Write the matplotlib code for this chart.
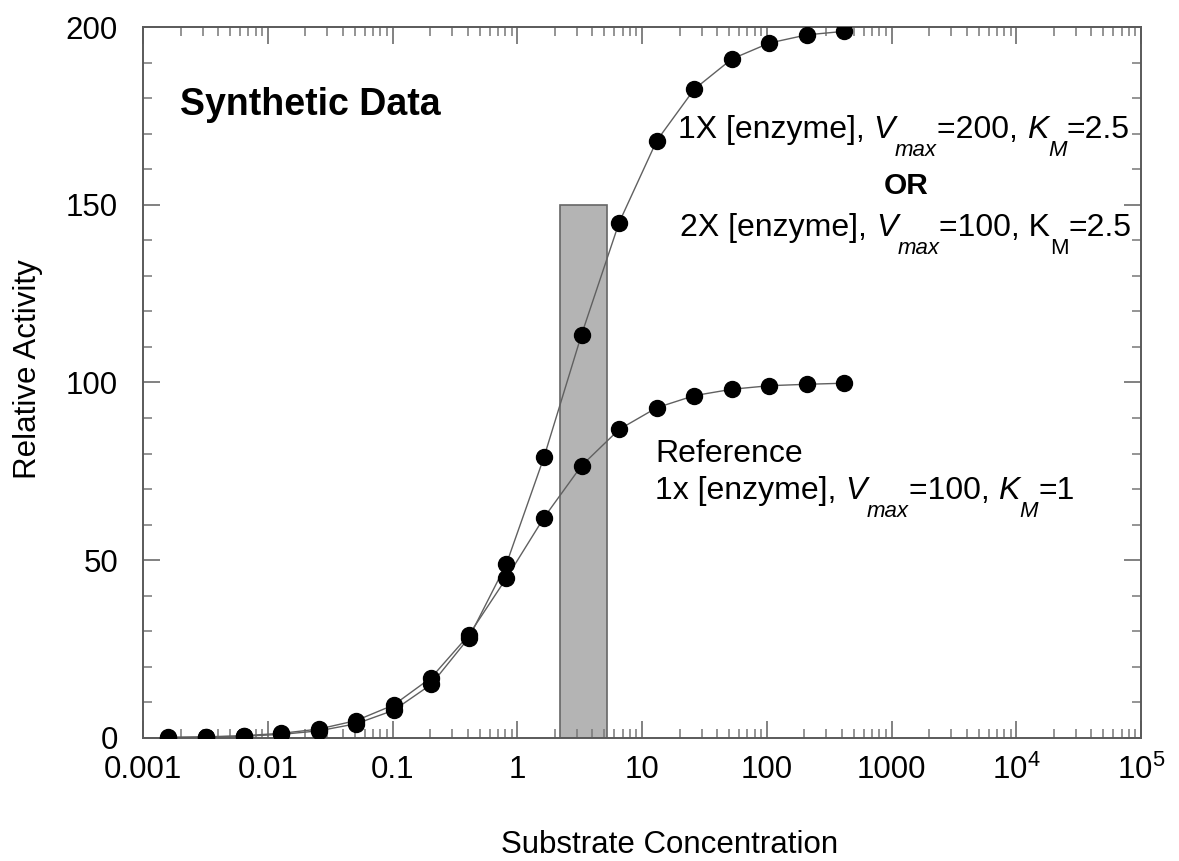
"""Michaelis-Menten synthetic data: relative activity vs substrate (log x)."""

import matplotlib

matplotlib.use("Agg")
import matplotlib.pyplot as plt
from matplotlib.font_manager import FontProperties
from matplotlib.patches import Rectangle
from matplotlib.ticker import FixedLocator, LogLocator, MultipleLocator, NullFormatter
from matplotlib.transforms import offset_copy

plt.rcParams["font.family"] = ["Liberation Sans", "DejaVu Sans"]
plt.rcParams["mathtext.fontset"] = "custom"
plt.rcParams["mathtext.rm"] = "Liberation Sans"

# substrate concentrations (doubling series)
substrate = [0.0016, 0.0032, 0.0064, 0.0128, 0.0256, 0.0512, 0.1024, 0.2048,
             0.4096, 0.8192, 1.638, 3.277, 6.554, 13.11, 26.21, 52.43, 104.9,
             209.7, 419.4]
# 1X enzyme, Vmax=200, KM=2.5 (or 2X enzyme, Vmax=100)
activity_high = [0.13, 0.26, 0.5, 1.0, 2.0, 4.0, 7.8, 15.1, 28.2, 49.0, 79.0,
                 113.5, 145.0, 168.0, 182.5, 191.0, 195.5, 197.8, 198.8]
# reference: 1x enzyme, Vmax=100, KM=1
activity_ref = [0.16, 0.32, 0.64, 1.3, 2.5, 4.9, 9.3, 17.0, 29.0, 45.0, 62.0,
                76.6, 86.8, 92.9, 96.3, 98.1, 99.1, 99.5, 99.8]

band_x = (2.2, 5.2)
band_top = 150

xtick_vals = [1e-3, 1e-2, 1e-1, 1, 10, 100, 1000, 1e4, 1e5]
xtick_labels = ["0.001", "0.01", "0.1", "1", "10", "100", "1000",
                "10$^{4}$", "10$^{5}$"]

MAIN = 23
SUB = 16
DROP = 18  # px, subscripts sit well below the baseline

fig = plt.figure(figsize=(11.79, 8.61), dpi=100)
ax = fig.add_axes([0.1213, 0.1429, 0.8465, 0.8257])
renderer = fig.canvas.get_renderer()


def _width(s, size, style):
    fp = FontProperties(family="Liberation Sans", size=size, **style)
    w1 = renderer.get_text_width_height_descent(s + "|", fp, ismath=False)[0]
    w0 = renderer.get_text_width_height_descent("|", fp, ismath=False)[0]
    return w1 - w0


def rich(x, y, parts):
    # parts: (text, italic?, subscript?)
    dx = 0.0
    for s, it, sub in parts:
        size = SUB if sub else MAIN
        style = {"style": "italic"} if it else {}
        tr = offset_copy(ax.transData, fig=fig, x=dx, y=-DROP if sub else 0,
                         units="dots")
        ax.text(x, y, s, transform=tr, fontsize=size, va="baseline",
                ha="left", **style)
        dx += _width(s, size, style)


ax.add_patch(Rectangle((band_x[0], 0), band_x[1] - band_x[0], band_top,
                       facecolor="#b4b4b4", edgecolor="#666666", lw=1.2, zorder=1))

for ys in (activity_high, activity_ref):
    ax.plot(substrate, ys, color="#606060", lw=1.0, zorder=2)
    ax.plot(substrate, ys, "o", color="black", ms=11.5, zorder=3)

ax.set_xscale("log")
ax.set_xlim(1e-3, 1e5)
ax.set_ylim(0, 200)
ax.xaxis.set_major_locator(FixedLocator(xtick_vals))
ax.set_xticklabels(xtick_labels)
ax.xaxis.set_minor_locator(LogLocator(base=10, subs=range(2, 10), numticks=20))
ax.xaxis.set_minor_formatter(NullFormatter())
ax.yaxis.set_major_locator(MultipleLocator(50))
ax.yaxis.set_minor_locator(MultipleLocator(10))

for s in ax.spines.values():
    s.set_color("#5a5a5a")
    s.set_linewidth(1.4)
ax.tick_params(which="both", direction="in", top=True, right=True,
               color="#777777", labelsize=22.5)
ax.tick_params(which="major", length=12, width=1.3)
ax.tick_params(which="minor", length=6.5, width=1.1)
ax.tick_params(axis="x", pad=12)
ax.tick_params(axis="y", pad=18)

fig.text(0.0237, 0.571, "Relative Activity", rotation=90, ha="center",
         va="center", fontsize=22.5)
fig.text(0.568, 0.0186, "Substrate Concentration", ha="center", va="center",
         fontsize=22.5)

ax.text(0.00198, 175.2, "Synthetic Data", fontsize=27, fontweight="bold",
        va="baseline")
rich(19.45, 168.8, [("1X [enzyme], ", False, False), ("V", True, False),
                    ("max", True, True), ("=200, ", False, False),
                    ("K", True, False), ("M", True, True), ("=2.5", False, False)])
ax.text(1306, 152.9, "OR", fontsize=21.5, fontweight="bold", ha="center",
        va="baseline")
rich(20.2, 141.2, [("2X [enzyme], ", False, False), ("V", True, False),
                   ("max", True, True), ("=100, K", False, False),
                   ("M", False, True), ("=2.5", False, False)])
ax.text(12.7, 77.6, "Reference", fontsize=MAIN, va="baseline")
rich(12.7, 67.2, [("1x [enzyme], ", False, False), ("V", True, False),
                  ("max", True, True), ("=100, ", False, False),
                  ("K", True, False), ("M", True, True), ("=1", False, False)])

fig.savefig("out.png", dpi=100)
